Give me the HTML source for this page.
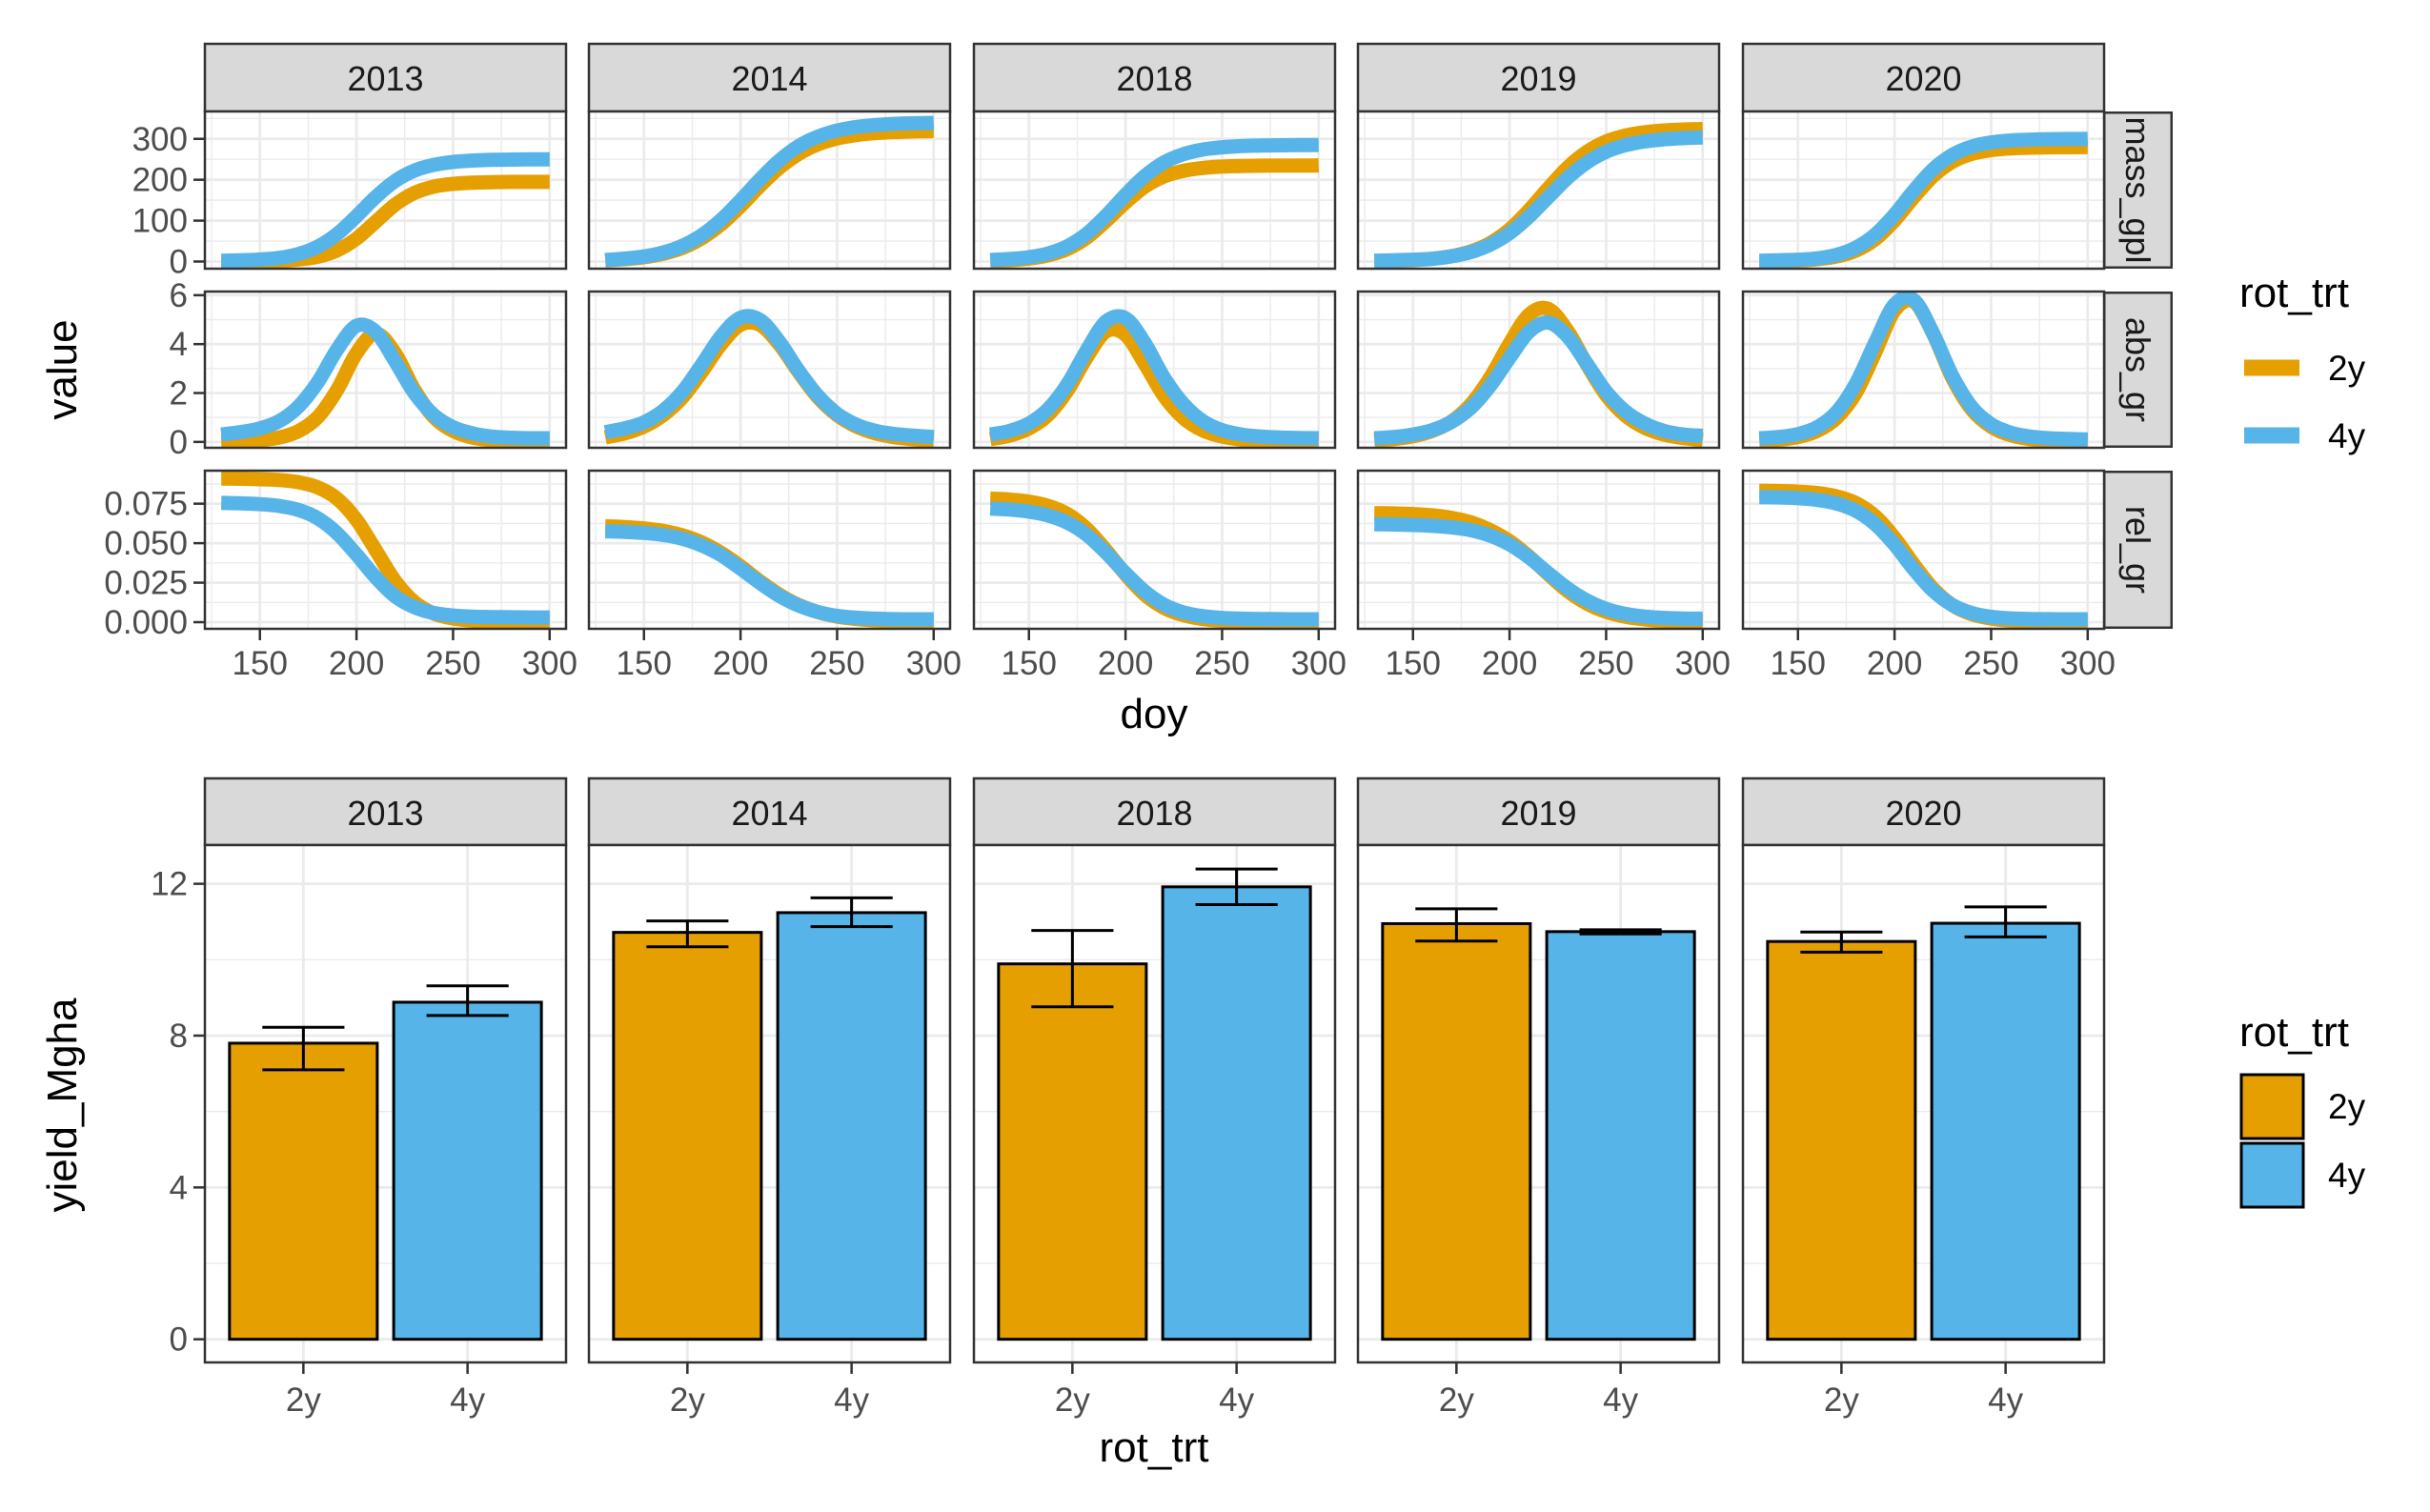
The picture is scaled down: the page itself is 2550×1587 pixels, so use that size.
<!DOCTYPE html>
<html><head><meta charset="utf-8"><style>
html,body{margin:0;padding:0;background:#fff;}
svg{display:block;font-family:"Liberation Sans",Arial,sans-serif;}
</style></head><body>
<svg id="chart" width="2550" height="1587" viewBox="0 0 2550 1587" xmlns="http://www.w3.org/2000/svg">
<defs>
<clipPath id="c0"><rect x="2207" y="117" width="73" height="165"/></clipPath>
<clipPath id="c1"><rect x="2207" y="306" width="73" height="164"/></clipPath>
<clipPath id="c2"><rect x="2207" y="494" width="73" height="166"/></clipPath>
</defs>
<g id="topPlot"></g>
<g id="botPlot"></g>
</svg>
<script>
const years = ["2013","2014","2018","2019","2020"];
const treatments = ["2y","4y"];
const doy = [130,140,150,160,170,180,190,200,210,220,230,240,250,260,270,280,290,300];
const variables = ["mass_gpl","abs_gr","rel_gr"];
const mass2013_2y=[0.1,0.3,0.8,2.0,5.0,11.9,27.3,56.0,97.5,139.0,167.7,183.1,190.0,193.0,194.2,194.7,194.9,194.9];
const mass2013_4y=[2,3,5,8.8,18.3,36.5,67.3,110.8,158,196.8,222.3,236.3,243.5,246.9,248.6,249.3,249.7,249.9];
const mass2014_2y=[3.2,5.8,10.6,19.0,33.4,57.0,91.2,135.4,184.6,228.8,263,286.7,301,309.4,314.2,316.8,318.3,319.1];
const mass2014_4y=[3.8,6.9,12.4,22.0,38.4,64.6,102,149.6,200.3,246.5,281.9,305.3,320.3,328.9,333.9,336.6,338.2,339];
const mass2018_2y=[1.5,3.3,7.2,15.1,30.8,58.8,99.4,144.5,183.1,208.2,221.8,228.9,232.2,233.7,234.4,234.7,234.9,235];
const mass2018_4y=[4,6,10.5,19.5,37.6,68.1,112.3,163,208.9,242.5,262.5,273.7,279.4,282.3,283.7,284.3,284.7,284.9];
const mass2019_2y=[0.9,1.8,3.5,6.8,13,24.7,45.2,78.3,125.1,178.8,229.8,268.1,293.5,308.1,316.2,320.5,322.7,323.8];
const mass2019_4y=[2,3,4.5,6.8,12.7,23.1,41.2,69.5,109.5,157.1,204.4,242.2,268.4,284.6,293.8,299,301.8,303.3];
const mass2020_2y=[0.4,1.1,2.4,5.5,12.3,26.7,54.6,100.5,157.4,208.9,244.2,263.2,272.4,276.7,278.5,279.4,279.7,279.9];
const mass2020_4y=[2,3,4.5,7.6,16.2,33.9,65.7,114.6,173.7,225.6,261,281.1,291.1,296,298.1,299.2,299.6,299.8];
const abs2013_2y=[0.01,0.03,0.08,0.18,0.44,1.02,2.13,3.63,4.43,3.63,2.13,1.02,0.45,0.18,0.08,0.03,0.01,0.01];
const abs2013_4y=[0.3,0.4,0.55,0.85,1.45,2.45,3.78,4.75,4.5,3.3,2.0,1.1,0.6,0.35,0.22,0.17,0.15,0.15];
const abs2014_2y=[0.19,0.35,0.63,1.10,1.83,2.87,4.0,4.79,4.79,4.0,2.87,1.83,1.10,0.63,0.35,0.19,0.11,0.06];
const abs2014_4y=[0.4,0.55,0.8,1.28,2.06,3.17,4.33,5.08,4.99,4.11,2.92,1.89,1.15,0.7,0.45,0.32,0.25,0.2];
const abs2018_2y=[0.12,0.26,0.55,1.11,2.11,3.47,4.52,4.38,3.19,1.87,0.98,0.47,0.22,0.10,0.05,0.02,0.01,0];
const abs2018_4y=[0.3,0.45,0.75,1.35,2.37,3.76,4.93,5.06,4.04,2.62,1.55,0.85,0.48,0.3,0.22,0.18,0.16,0.15];
const abs2019_2y=[0.06,0.12,0.23,0.45,0.84,1.54,2.63,4.02,5.20,5.44,4.55,3.17,1.92,1.08,0.58,0.30,0.16,0.08];
const abs2019_4y=[0.15,0.2,0.3,0.48,0.82,1.4,2.3,3.44,4.50,4.88,4.32,3.20,2.06,1.25,0.75,0.45,0.3,0.25];
const abs2020_2y=[0.04,0.09,0.20,0.45,0.98,2.01,3.66,5.37,5.74,4.42,2.60,1.32,0.62,0.28,0.12,0.05,0.02,0.01];
const abs2020_4y=[0.15,0.2,0.32,0.6,1.22,2.39,4.07,5.62,5.80,4.44,2.69,1.42,0.72,0.38,0.22,0.15,0.12,0.1];
const rel2013_2y=[0.0909,0.0908,0.0905,0.0900,0.0886,0.0853,0.0782,0.0648,0.0455,0.0261,0.0127,0.0055,0.0024,0.0010,0.0004,0.0002,0.0001,0];
const rel2013_4y=[0.0755,0.0752,0.0747,0.0735,0.0710,0.0657,0.0562,0.0428,0.0283,0.0164,0.0095,0.0058,0.0042,0.0035,0.0032,0.0031,0.0030,0.0030];
const rel2014_2y=[0.0607,0.0602,0.0593,0.0577,0.0549,0.0504,0.0438,0.0354,0.0259,0.0175,0.0109,0.0064,0.0036,0.0020,0.0011,0.0006,0.0003,0.0002];
const rel2014_4y=[0.0575,0.0572,0.0565,0.0552,0.0528,0.0485,0.0424,0.0339,0.0249,0.0167,0.0106,0.0065,0.0040,0.0028,0.0022,0.0019,0.0018,0.0018];
const rel2018_2y=[0.0782,0.0776,0.0763,0.0736,0.0684,0.0590,0.0454,0.0303,0.0174,0.0090,0.0044,0.0020,0.0009,0.0004,0.0002,0.0001,0,0];
const rel2018_4y=[0.0719,0.0713,0.0700,0.0675,0.0629,0.0552,0.0439,0.0310,0.0194,0.0110,0.0062,0.0038,0.0027,0.0022,0.0020,0.0019,0.0018,0.0018];
const rel2019_2y=[0.0690,0.0688,0.0684,0.0676,0.0660,0.0632,0.0582,0.0513,0.0416,0.0304,0.0198,0.0118,0.0066,0.0035,0.0018,0.0009,0.0005,0.0002];
const rel2019_4y=[0.0620,0.0618,0.0615,0.0610,0.0600,0.0582,0.0548,0.0492,0.0411,0.0311,0.0214,0.0137,0.0084,0.0052,0.0035,0.0027,0.0023,0.0022];
const rel2020_2y=[0.0832,0.0830,0.0826,0.0817,0.0796,0.0754,0.0671,0.0534,0.0365,0.0212,0.0107,0.0050,0.0023,0.0010,0.0004,0.0002,0.0001,0];
const rel2020_4y=[0.0792,0.0790,0.0785,0.0774,0.0751,0.0705,0.0620,0.0491,0.0334,0.0199,0.0108,0.0058,0.0034,0.0024,0.0020,0.0019,0.0018,0.0018];
const xTicks=[150,200,250,300];
const massTicks=[0,100,200,300];
const absTicks=[0,2,4,6];
const relTicks=[0,0.025,0.05,0.075];
const relTickLabels=["0.000","0.025","0.050","0.075"];
const yield2y=[7.8,10.72,9.89,10.95,10.48];
const yield2yLo=[7.1,10.34,8.76,10.49,10.2];
const yield2yHi=[8.22,11.02,10.77,11.34,10.73];
const yield4y=[8.88,11.24,11.92,10.74,10.96];
const yield4yLo=[8.53,10.87,11.45,10.68,10.6];
const yield4yHi=[9.31,11.63,12.39,10.79,11.39];
const yieldTicks=[0,4,8,12];

const NS="http://www.w3.org/2000/svg";
const COL={"2y":"#E69F00","4y":"#56B4E9"};
function mk(parent,tag,attrs,text){const e=document.createElementNS(NS,tag);for(const k in attrs)e.setAttribute(k,attrs[k]);if(text!==undefined)e.textContent=text;parent.appendChild(e);return e;}
const topG=document.getElementById('topPlot'), botG=document.getElementById('botPlot');
const panelX=[215,618,1022,1425,1829], PW=379;
const rows=[{y0:117,y1:282,dmin:-17.5,dmax:367,ticks:massTicks,labels:massTicks.map(String),minor:[50,150,250,350]},
 {y0:306,y1:470,dmin:-0.24,dmax:6.15,ticks:absTicks,labels:absTicks.map(String),minor:[1,3,5]},
 {y0:494,y1:660,dmin:-0.0042,dmax:0.0959,ticks:relTicks,labels:relTickLabels,minor:[0.0125,0.0375,0.0625,0.0875]}];
const series={mass_gpl:{"2013":[mass2013_2y,mass2013_4y],"2014":[mass2014_2y,mass2014_4y],"2018":[mass2018_2y,mass2018_4y],"2019":[mass2019_2y,mass2019_4y],"2020":[mass2020_2y,mass2020_4y]},
 abs_gr:{"2013":[abs2013_2y,abs2013_4y],"2014":[abs2014_2y,abs2014_4y],"2018":[abs2018_2y,abs2018_4y],"2019":[abs2019_2y,abs2019_4y],"2020":[abs2020_2y,abs2020_4y]},
 rel_gr:{"2013":[rel2013_2y,rel2013_4y],"2014":[rel2014_2y,rel2014_4y],"2018":[rel2018_2y,rel2018_4y],"2019":[rel2019_2y,rel2019_4y],"2020":[rel2020_2y,rel2020_4y]}};
const XMIN=121.5,XMAX=308.5;
function xs(p,v){return panelX[p]+(v-XMIN)/(XMAX-XMIN)*PW;}
function ys(r,v){const R=rows[r];return R.y1-(v-R.dmin)/(R.dmax-R.dmin)*(R.y1-R.y0);}
function smooth(pts){let d="M"+pts[0][0].toFixed(1)+","+pts[0][1].toFixed(1);
 for(let i=0;i<pts.length-1;i++){const p0=pts[Math.max(i-1,0)],p1=pts[i],p2=pts[i+1],p3=pts[Math.min(i+2,pts.length-1)];
 const c1=[p1[0]+(p2[0]-p0[0])/6,p1[1]+(p2[1]-p0[1])/6],c2=[p2[0]-(p3[0]-p1[0])/6,p2[1]-(p3[1]-p1[1])/6];
 d+=" C"+c1[0].toFixed(1)+","+c1[1].toFixed(1)+" "+c2[0].toFixed(1)+","+c2[1].toFixed(1)+" "+p2[0].toFixed(1)+","+p2[1].toFixed(1);}return d;}
function txt(parent,x,y,s,size,fill,anchor,name,extra){const t=mk(parent,'text',Object.assign({x:x,y:y,'font-size':size,fill:fill,'text-anchor':anchor||'middle'},extra||{}),s);
 
 return t;}

years.forEach((yr,p)=>{
 const sg=mk(topG,'g',{});
 
 
 mk(sg,'rect',{x:panelX[p],y:46,width:PW,height:71,fill:'#D9D9D9',stroke:'#333333','stroke-width':2.5});
 txt(sg,panelX[p]+PW/2,95,yr,36,'#1A1A1A','middle','strip-label-'+yr);
 rows.forEach((R,r)=>{
  const g=mk(topG,'g',{});
  
  
  mk(g,'rect',{x:panelX[p],y:R.y0,width:PW,height:R.y1-R.y0,fill:'#fff'});
  R.minor.forEach(v=>{const y=ys(r,v);if(y>R.y0&&y<R.y1)mk(g,'line',{x1:panelX[p],x2:panelX[p]+PW,y1:y,y2:y,stroke:'#EBEBEB','stroke-width':1.4});});
  [125,175,225,275].forEach(v=>{const x=xs(p,v);mk(g,'line',{x1:x,x2:x,y1:R.y0,y2:R.y1,stroke:'#EBEBEB','stroke-width':1.4});});
  R.ticks.forEach(v=>{const y=ys(r,v);mk(g,'line',{x1:panelX[p],x2:panelX[p]+PW,y1:y,y2:y,stroke:'#EBEBEB','stroke-width':2.8});});
  xTicks.forEach(v=>{const x=xs(p,v);mk(g,'line',{x1:x,x2:x,y1:R.y0,y2:R.y1,stroke:'#EBEBEB','stroke-width':2.8});});
  const cp=mk(g,'clipPath',{id:'cp'+p+'_'+r});mk(cp,'rect',{x:panelX[p],y:R.y0,width:PW,height:R.y1-R.y0});
  const lg=mk(g,'g',{'clip-path':'url(#cp'+p+'_'+r+')'});
  treatments.forEach((t,ti)=>{const vals=series[variables[r]][yr][ti];
   const pts=doy.map((d,i)=>[xs(p,d),ys(r,vals[i])]);
   const path=mk(lg,'path',{d:smooth(pts),fill:'none',stroke:COL[t],'stroke-width':15,'stroke-linejoin':'round'});
   
   });
  mk(g,'rect',{x:panelX[p],y:R.y0,width:PW,height:R.y1-R.y0,fill:'none',stroke:'#333333','stroke-width':2.5});
  if(p===0){R.ticks.forEach((v,i)=>{const y=ys(r,v);mk(topG,'line',{x1:203,x2:215,y1:y,y2:y,stroke:'#333333','stroke-width':2.5});
   txt(topG,197,y+12,R.labels[i],35,'#4D4D4D','end','y-tick-'+variables[r]+'-'+R.labels[i]);});}
  if(p===4){const s=mk(topG,'g',{'clip-path':'url(#c'+r+')'});
   
   
   mk(s,'rect',{x:2207,y:R.y0,width:73,height:R.y1-R.y0,fill:'#D9D9D9',stroke:'#333333','stroke-width':5});
   const cy=(R.y0+R.y1)/2;txt(s,2231,cy,variables[r],36,'#1A1A1A','middle','strip-label-'+variables[r],{transform:'rotate(90 2231 '+cy+')'});}
 });
 xTicks.forEach(v=>{const x=xs(p,v);mk(topG,'line',{x1:x,x2:x,y1:660,y2:672,stroke:'#333333','stroke-width':2.5});
  txt(topG,x,708,String(v),35,'#4D4D4D','middle','x-tick-'+yr+'-'+v);});
});
txt(topG,1211,764,'doy',44,'#000','middle','x-axis-title-doy');
txt(topG,80,388,'value',44,'#000','middle','y-axis-title-value',{transform:'rotate(-90 80 388)'});
txt(topG,2350,322,'rot_trt',44,'#000','start','legend-title-lines');
treatments.forEach((t,i)=>{const y=386+i*71;const l=mk(topG,'line',{x1:2355,x2:2413,y1:y,y2:y,stroke:COL[t],'stroke-width':17});
 
 
 txt(topG,2443,y+13,t,37,'#000','start','legend-label-line-'+t);});

const BY0=887,BY1=1430,YMIN=-0.61,YMAX=13.02;
function yb(v){return BY1-(v-YMIN)/(YMAX-YMIN)*(BY1-BY0);}
function xb(p,c){return panelX[p]+(c+1-0.4)/2.2*PW;}
const bw=0.9/2.2*PW, ew=0.5/2.2*PW;
years.forEach((yr,p)=>{
 const sg=mk(botG,'g',{});
 
 
 mk(sg,'rect',{x:panelX[p],y:817,width:PW,height:70,fill:'#D9D9D9',stroke:'#333333','stroke-width':2.5});
 txt(sg,panelX[p]+PW/2,866,yr,36,'#1A1A1A','middle','bar-strip-label-'+yr);
 const g=mk(botG,'g',{});
 
 
 mk(g,'rect',{x:panelX[p],y:BY0,width:PW,height:BY1-BY0,fill:'#fff'});
 [2,6,10].forEach(v=>{mk(g,'line',{x1:panelX[p],x2:panelX[p]+PW,y1:yb(v),y2:yb(v),stroke:'#EBEBEB','stroke-width':1.4});});
 yieldTicks.forEach(v=>{mk(g,'line',{x1:panelX[p],x2:panelX[p]+PW,y1:yb(v),y2:yb(v),stroke:'#EBEBEB','stroke-width':2.8});});
 [0,1].forEach(c=>{mk(g,'line',{x1:xb(p,c),x2:xb(p,c),y1:BY0,y2:BY1,stroke:'#EBEBEB','stroke-width':2.8});});
 const vals=[yield2y[p],yield4y[p]],lo=[yield2yLo[p],yield4yLo[p]],hi=[yield2yHi[p],yield4yHi[p]];
 treatments.forEach((t,c)=>{const cx=xb(p,c);
  const r=mk(g,'rect',{x:cx-bw/2,y:yb(vals[c]),width:bw,height:yb(0)-yb(vals[c]),fill:COL[t],stroke:'#000','stroke-width':3});
  
  
  const e=mk(g,'path',{d:'M'+(cx-ew/2)+','+yb(hi[c])+'H'+(cx+ew/2)+'M'+cx+','+yb(hi[c])+'V'+yb(lo[c])+'M'+(cx-ew/2)+','+yb(lo[c])+'H'+(cx+ew/2),fill:'none',stroke:'#000','stroke-width':3});
  
  
  mk(botG,'line',{x1:cx,x2:cx,y1:BY1,y2:BY1+12,stroke:'#333333','stroke-width':2.5});
  txt(botG,cx,1481,t,35,'#4D4D4D','middle','bar-x-tick-'+yr+'-'+t);});
 mk(g,'rect',{x:panelX[p],y:BY0,width:PW,height:BY1-BY0,fill:'none',stroke:'#333333','stroke-width':2.5});
});
yieldTicks.forEach(v=>{const y=yb(v);mk(botG,'line',{x1:203,x2:215,y1:y,y2:y,stroke:'#333333','stroke-width':2.5});
 txt(botG,197,y+12,String(v),35,'#4D4D4D','end','bar-y-tick-'+v);});
txt(botG,1211,1534,'rot_trt',44,'#000','middle','x-axis-title-rot-trt');
txt(botG,80,1160,'yield_Mgha',44,'#000','middle','y-axis-title-yield',{transform:'rotate(-90 80 1160)'});
txt(botG,2350,1098,'rot_trt',44,'#000','start','legend-title-bars');
treatments.forEach((t,i)=>{const y=1128+i*72;const r=mk(botG,'rect',{x:2352,y:y,width:65,height:67,fill:COL[t],stroke:'#000','stroke-width':3});
 
 
 txt(botG,2443,y+46,t,37,'#000','start','legend-label-bar-'+t);});
</script>
</body></html>
